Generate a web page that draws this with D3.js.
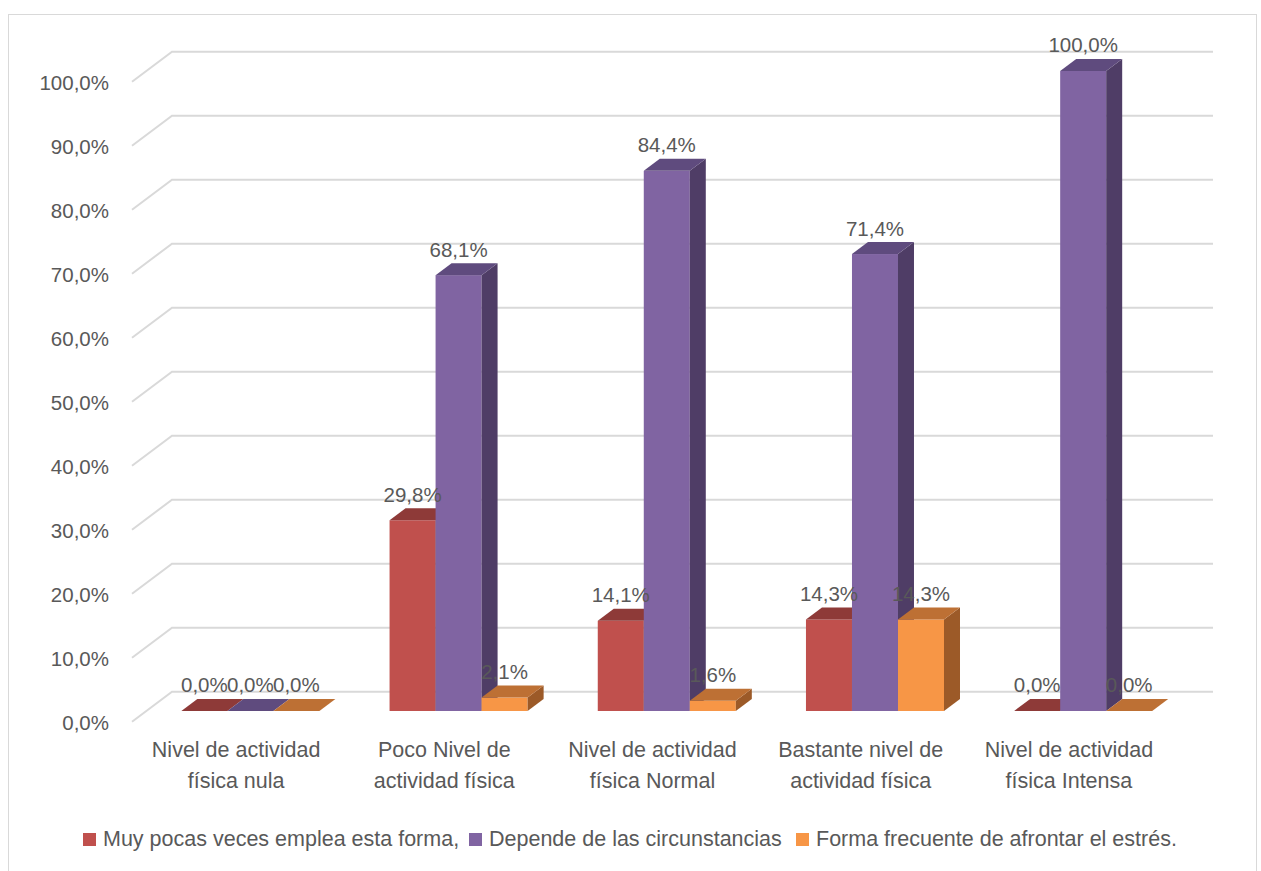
<!DOCTYPE html>
<html>
<head>
<meta charset="utf-8">
<script src="https://cdn.jsdelivr.net/npm/d3@7"></script>
<style>
  body { margin: 0; background: #fff; }
  svg text { font-family: "Liberation Sans", Arial, sans-serif; fill: #595959; }
</style>
</head>
<body>
<svg id="chart" width="1261" height="871"></svg>
<script>
var categories = [
	["Nivel de actividad", "física nula"],
	["Poco Nivel de", "actividad física"],
	["Nivel de actividad", "física Normal"],
	["Bastante nivel de", "actividad física"],
	["Nivel de actividad", "física Intensa"]
];
var seriesNames = ["Muy pocas veces emplea esta forma,", "Depende de las circunstancias", "Forma frecuente de afrontar el estrés."];
var muyPocas = [0, 29.8, 14.1, 14.3, 0];
var depende = [0, 68.1, 84.4, 71.4, 100];
var frecuente = [0, 2.1, 1.6, 14.3, 0];
var ticks = [0, 10, 20, 30, 40, 50, 60, 70, 80, 90, 100];

// front, top, side
var colors = [
	["#C0504D", "#8E3A38", "#7A302E"],
	["#8064A2", "#5F4B7E", "#4F3D66"],
	["#F79646", "#BD7034", "#9C5A28"]
];

var svg = d3.select("#chart");
var series = [muyPocas, depende, frecuente];

var locale = d3.formatLocale({decimal: ",", thousands: ".", grouping: [3], currency: ["", "€"]});
var fmt = function (v) { return locale.format(".1f")(v) + "%"; };

// depth of the wall: one unit of depth moves right 40 and up 30
var DX = 40, DY = -30;
var barZ = 0.357, barDepth = 0.4;

var x = d3.scaleBand()
	.domain(d3.range(categories.length))
	.range([132, 1173])
	.paddingInner(0.337)
	.paddingOuter(0.1685);
var xs = d3.scaleBand().domain(d3.range(series.length)).range([0, x.bandwidth()]);
var y = d3.scaleLinear().domain([0, 100]).range([721.7, 81.7]);

// chart border
svg.append("rect")
	.attr("x", 8.5).attr("y", 14.5)
	.attr("width", 1248).attr("height", 900)
	.attr("fill", "none").attr("stroke", "#D9D9D9").attr("stroke-width", 1);

// gridlines: side wall diagonal + back wall
var grid = svg.append("g");
grid.selectAll("path").data(ticks).enter().append("path")
	.attr("d", function (d) {
		var x0 = x.range()[0], x1 = x.range()[1];
		return "M" + x0 + "," + y(d) + "L" + (x0 + DX) + "," + (y(d) + DY) + "L" + (x1 + DX) + "," + (y(d) + DY);
	})
	.attr("fill", "none").attr("stroke", "#D9D9D9").attr("stroke-width", 2);

grid.selectAll("text").data(ticks).enter().append("text")
	.attr("x", 109).attr("y", function (d) { return y(d) + 8.5; })
	.attr("text-anchor", "end")
	.style("font-size", "20.5px")
	.text(fmt);

// bars
var bars = svg.append("g");
var labels = [];
categories.forEach(function (c, i) {
	series.forEach(function (s, j) {
		var v = s[i];
		var bx = x(i) + xs(j) + barZ * DX;
		var w = xs.bandwidth();
		var top = y(v) + barZ * DY;
		var bot = y(0) + barZ * DY;
		var ddx = barDepth * DX, ddy = barDepth * DY;
		var g = bars.append("g");
		if (v > 0) {
			g.append("rect")
				.attr("x", bx).attr("y", top)
				.attr("width", w).attr("height", bot - top)
				.attr("fill", colors[j][0]);
			g.append("path")
				.attr("d", "M" + (bx + w) + "," + top + "L" + (bx + w + ddx) + "," + (top + ddy) +
					"L" + (bx + w + ddx) + "," + (bot + ddy) + "L" + (bx + w) + "," + bot + "Z")
				.attr("fill", colors[j][2]);
		}
		g.append("path")
			.attr("d", "M" + bx + "," + top + "L" + (bx + w) + "," + top +
				"L" + (bx + w + ddx) + "," + (top + ddy) + "L" + (bx + ddx) + "," + (top + ddy) + "Z")
			.attr("fill", colors[j][1]);
		labels.push({x: bx + w / 2, y: top + ddy - 6.5, v: v});
	});
});

svg.append("g").selectAll("text").data(labels).enter().append("text")
	.attr("x", function (d) { return d.x; })
	.attr("y", function (d) { return d.y; })
	.attr("text-anchor", "middle")
	.style("font-size", "20.5px")
	.text(function (d) { return fmt(d.v); });

// category labels
var cats = svg.append("g");
categories.forEach(function (c, i) {
	var t = cats.append("text")
		.attr("text-anchor", "middle")
		.style("font-size", "21.5px");
	c.forEach(function (line, k) {
		t.append("tspan")
			.attr("x", x(i) + x.bandwidth() / 2)
			.attr("y", 757 + k * 30.5)
			.text(line);
	});
});

// legend
var legendX = [83, 469, 796];
var legend = svg.append("g");
seriesNames.forEach(function (n, j) {
	legend.append("rect")
		.attr("x", legendX[j]).attr("y", 833)
		.attr("width", 13).attr("height", 13)
		.attr("fill", colors[j][0]);
	legend.append("text")
		.attr("x", legendX[j] + 20).attr("y", 846)
		.style("font-size", "21.5px")
		.text(n);
});
</script>
</body>
</html>
